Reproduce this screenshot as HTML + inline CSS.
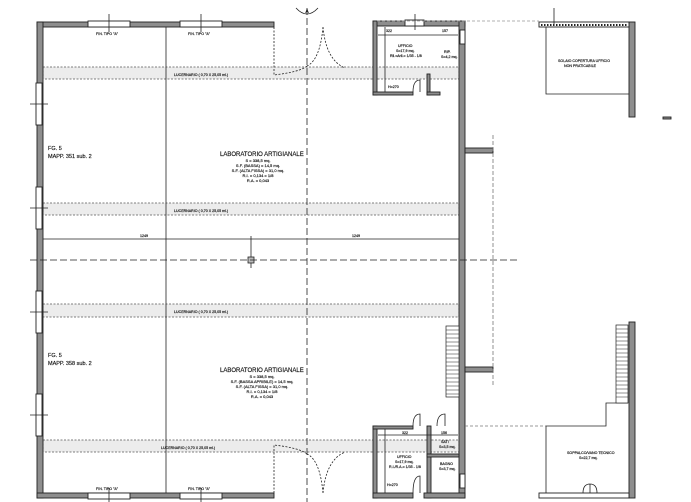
<!DOCTYPE html>
<html><head><meta charset="utf-8"><style>
html,body{margin:0;padding:0;background:#fff;width:691px;height:502px;overflow:hidden}
svg{display:block}
text{font-family:"Liberation Sans",sans-serif;fill:#111;stroke:#111;stroke-width:0.15}
</style></head><body>
<svg width="691" height="502" viewBox="0 0 691 502" xmlns="http://www.w3.org/2000/svg">
<g fill="#ececec" stroke="#555" stroke-width="0.8" stroke-dasharray="2,1.5">
<rect x="43" y="67" width="416" height="12"/>
<rect x="43" y="203" width="416" height="12"/>
<rect x="43" y="304" width="416" height="13"/>
<rect x="43" y="440" width="416" height="12"/>
</g>
<g fill="#8e8e8e" stroke="#222" stroke-width="0.9">
<rect x="37" y="22" width="237" height="5"/>
<rect x="37" y="22" width="6" height="476"/>
<rect x="37" y="493" width="237" height="5"/>
<rect x="373" y="21" width="92" height="5"/>
<rect x="459" y="21" width="6" height="477"/>
<rect x="373" y="21" width="4" height="74"/>
<rect x="373" y="92" width="40" height="3"/>
<rect x="427" y="74" width="3" height="21"/>
<rect x="427" y="92" width="13" height="3"/>
<rect x="465" y="148" width="28" height="5"/>
<rect x="465" y="367" width="28" height="5"/>
<rect x="629" y="22" width="6" height="95"/>
<rect x="629" y="322" width="6" height="176"/>
<rect x="373" y="426" width="4" height="72"/>
<rect x="373" y="426" width="40" height="3"/>
<rect x="427" y="426" width="4" height="72"/>
<rect x="373" y="493" width="40" height="5"/>
<rect x="424" y="493" width="41" height="5"/>
<rect x="427" y="454" width="32" height="3"/>
<rect x="663" y="117" width="8" height="2"/>
</g>
<g fill="#fff" stroke="#222" stroke-width="0.9">
<rect x="88" y="21" width="42" height="6"/><rect x="180" y="21" width="42" height="6"/>
<rect x="88" y="493" width="42" height="6"/><rect x="180" y="493" width="42" height="6"/>
<rect x="36" y="83" width="6" height="42"/><rect x="36" y="187" width="6" height="42"/>
<rect x="36" y="291" width="6" height="42"/><rect x="36" y="394" width="6" height="42"/>
<rect x="405" y="20" width="19" height="6"/><rect x="460" y="30" width="5" height="14"/>
<rect x="460" y="474" width="5" height="14"/>
<rect x="539" y="22" width="90" height="5"/><rect x="539" y="493" width="90" height="5"/>
</g>
<g stroke="#222" stroke-width="0.8" fill="none">
<line x1="109" y1="14" x2="109" y2="32"/><line x1="201" y1="14" x2="201" y2="32"/>
<line x1="109" y1="488" x2="109" y2="502"/><line x1="201" y1="488" x2="201" y2="502"/>
<line x1="30" y1="104" x2="48" y2="104"/><line x1="30" y1="208" x2="48" y2="208"/>
<line x1="30" y1="312" x2="48" y2="312"/><line x1="30" y1="415" x2="48" y2="415"/>
<line x1="415" y1="14" x2="415" y2="30"/>
<line x1="554" y1="8" x2="554" y2="26"/>
<line x1="166" y1="27" x2="166" y2="493"/>
<line x1="43" y1="239" x2="459" y2="239"/>
<line x1="251" y1="236" x2="251" y2="268"/>
<rect x="248" y="257" width="6" height="6" fill="#bbb"/>
<polyline points="546,27 546,94 629,94"/>
<polyline points="546,493 546,426 606,426 606,403 628,403"/>
<line x1="465" y1="426" x2="546" y2="426" stroke="#777" stroke-dasharray="3,2"/>
<line x1="378" y1="35" x2="458" y2="35"/>
<line x1="385" y1="27" x2="385" y2="92"/>
<line x1="378" y1="435" x2="458" y2="435"/>
<line x1="385" y1="429" x2="385" y2="493"/>
<path d="M274 27 L274 75 Q300 72 307 66" stroke-dasharray="2,1.5"/>
<path d="M323 27 Q320 60 307 66 M323 27 Q326 60 345 68" stroke-dasharray="2,1.5"/>
<path d="M274 493 L274 445 Q300 448 307 454" stroke-dasharray="2,1.5"/>
<path d="M323 493 Q320 460 307 454 M323 493 Q326 460 345 452" stroke-dasharray="2,1.5"/>
<path d="M413 92 Q413 80 420 80 L420 92"/>
<path d="M413 493 Q413 476 420 476 L420 493"/>
<path d="M413 426 Q413 414 420 414 L420 426"/>
<path d="M437 426 Q437 414 445 414 L445 426"/>
<path d="M583 493 Q583 484 590 484 L590 493 M597 493 Q597 484 590 484"/>
<line x1="307" y1="8" x2="307" y2="502" stroke-dasharray="7,3"/>
<line x1="30" y1="260" x2="520" y2="260" stroke-dasharray="7,3"/>
<line x1="493" y1="135" x2="493" y2="385" stroke-dasharray="4,2" stroke="#777"/>
<line x1="377" y1="21" x2="539" y2="21" stroke="#999" stroke-dasharray="3,2"/>
<path d="M296 8 Q307 20 318 8"/>
</g>
<g stroke="#222" stroke-width="0.7" fill="#fff">
<rect x="446" y="326" width="13" height="71"/>
<rect x="616" y="325" width="12" height="78"/>
</g>
<g stroke="#222" stroke-width="0.6">
<path d="M446 330h13M446 334h13M446 338h13M446 342h13M446 346h13M446 350h13M446 354h13M446 358h13M446 362h13M446 366h13M446 370h13M446 374h13M446 378h13M446 382h13M446 386h13M446 390h13M446 394h13"/>
<path d="M616 329h12M616 333h12M616 337h12M616 341h12M616 345h12M616 349h12M616 353h12M616 357h12M616 361h12M616 365h12M616 369h12M616 373h12M616 377h12M616 381h12M616 385h12M616 389h12M616 393h12M616 397h12"/>
<path d="M541 25h86" stroke-dasharray="1.5,1.5" stroke-width="2"/>
</g>
<g font-size="3.6">
<text x="96" y="35">FIN. TIPO "A"</text><text x="188" y="35">FIN. TIPO "A"</text>
<text x="96" y="490">FIN. TIPO "A"</text><text x="188" y="490">FIN. TIPO "A"</text>
<text x="174" y="76">LUCERNARIO ( 0,70 X 25,05 ml.)</text>
<text x="174" y="212">LUCERNARIO ( 0,70 X 25,05 ml.)</text>
<text x="174" y="313">LUCERNARIO ( 0,70 X 25,05 ml.)</text>
<text x="161" y="449">LUCERNARIO ( 0,70 X 25,05 ml.)</text>
<text x="140" y="237">1249</text><text x="352" y="237">1249</text>
<text x="386" y="32">322</text><text x="442" y="32">157</text>
<text x="398" y="47">UFFICIO</text><text x="396" y="52">S=17,9 mq.</text><text x="390" y="57">Ril.=Aril.= 1/35 - 1/8</text>
<text x="444" y="53">RIP.</text><text x="441" y="58">S=4,2 mq.</text>
<text x="388" y="88">H=270</text>
<text x="558" y="62">SOLAIO COPERTURA UFFICIO</text><text x="564" y="67">NON PRATICABILE</text>
<text x="402" y="434">322</text><text x="441" y="434">156</text>
<text x="441" y="443">SATI</text><text x="439" y="448">S=3,5 mq.</text>
<text x="440" y="465">BAGNO</text><text x="439" y="470">S=3,7 mq.</text>
<text x="397" y="458">UFFICIO</text><text x="395" y="463">S=17,9 mq.</text><text x="389" y="468">R.I./R.A.= 1/35 - 1/8</text>
<text x="387" y="486">H=270</text>
<text x="567" y="454">SOPPALCO/VANO TECNICO</text><text x="579" y="459">S=22,7 mq.</text>
</g>
<g font-size="5.5">
<text x="48" y="150">FG. 5</text><text x="48" y="158">MAPP. 351 sub. 2</text>
<text x="48" y="357">FG. 5</text><text x="48" y="365">MAPP. 358 sub. 2</text>
<text x="220" y="156" font-size="6">LABORATORIO  ARTIGIANALE</text>
<text x="220" y="372" font-size="6">LABORATORIO  ARTIGIANALE</text>
</g>
<g font-size="4" text-anchor="middle">
<text x="258" y="162">S =  338,5 mq.</text><text x="258" y="167">S.F. (BASSA) =  14,5 mq.</text>
<text x="258" y="172">S.F. (ALTA FISSA) =  31,0 mq.</text><text x="258" y="177">R.I. = 0,134 = 1/8</text><text x="258" y="182">R.A. = 0,043</text>
<text x="262" y="378">S =  338,5 mq.</text><text x="262" y="383">S.F. (BASSA APRIBILE) =  14,5 mq.</text>
<text x="262" y="388">S.F. (ALTA FISSA) =  31,0 mq.</text><text x="262" y="393">R.I. = 0,134 = 1/8</text><text x="262" y="398">R.A. = 0,043</text>
<text x="307" y="13" font-size="5">A</text>
</g>
</svg>
</body></html>
